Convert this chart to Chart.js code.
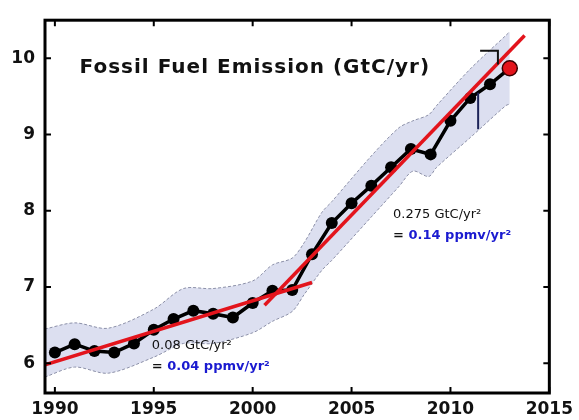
<!DOCTYPE html>
<html>
<head>
<meta charset="utf-8">
<script src="https://cdn.jsdelivr.net/npm/chart.js@4"></script>
<style>
  html, body { margin: 0; padding: 0; background: #fff; }
  canvas { display: block; }
</style>
</head>
<body>
<canvas id="chart" width="579" height="420"></canvas>
<script>
'use strict';

// annual fossil fuel emissions, GtC/yr
const years = [1990, 1991, 1992, 1993, 1994, 1995, 1996, 1997, 1998, 1999, 2000, 2001,
               2002, 2003, 2004, 2005, 2006, 2007, 2008, 2009, 2010, 2011, 2012];
const emissions = [6.14, 6.25, 6.16, 6.14, 6.26, 6.44, 6.58, 6.69, 6.65, 6.60, 6.79, 6.95,
                   6.96, 7.43, 7.84, 8.10, 8.33, 8.57, 8.81, 8.74, 9.18, 9.48, 9.66];

// projected value
const projYear = [2013];
const projValue = [9.87];

// linear fits (start / end)
const fitSlowYears = [1989.5, 2003];
const fitSlowValues = [5.98, 7.06];
const fitFastYears = [2000.6, 2013.75];
const fitFastValues = [6.76, 10.30];

// uncertainty envelope
const bandYears = [1989.5, 1991, 1992.7, 1995, 1996.5, 1998, 2000, 2001, 2002, 2002.6,
                   2003.5, 2004, 2006, 2007.4, 2008.1, 2008.9, 2009.3, 2011, 2012.8, 2013];
const bandUpper = [6.45, 6.53, 6.46, 6.71, 6.98, 6.98, 7.08, 7.29, 7.38, 7.58,
                   7.98, 8.12, 8.72, 9.09, 9.18, 9.26, 9.38, 9.86, 10.30, 10.35];
const bandLower = [5.82, 5.95, 5.87, 6.08, 6.26, 6.26, 6.40, 6.55, 6.68, 6.90,
                   7.22, 7.35, 7.92, 8.32, 8.52, 8.45, 8.57, 8.96, 9.38, 9.40];

// small marker lines near the end
const bracketYears = [2011.5, 2012.4, 2012.4];
const bracketValues = [10.10, 10.10, 9.92];
const rangeYears = [2011.4, 2011.4];
const rangeValues = [9.55, 9.07];

const xTicks = [1990, 1995, 2000, 2005, 2010, 2015];
const yTicks = [6, 7, 8, 9, 10];

const pts = (xs, ys) => xs.map((x, i) => ({ x: x, y: ys[i] }));

const RED = '#e3141c';
const BAND = 'rgba(216, 219, 238, 0.9)';
const BAND_EDGE = '#8c90a8';
const BLUE = '#1a1ad0';

const decor = {
    id: 'decor',
    afterDatasetsDraw(chart) {
        const { ctx, scales: { x, y } } = chart;
        ctx.save();
        ctx.textBaseline = 'middle';
        ctx.textAlign = 'left';

        // title
        ctx.fillStyle = '#111';
        ctx.font = 'bold 20px "DejaVu Sans"';
        ctx.letterSpacing = '1px';
        ctx.fillText('Fossil Fuel Emission (GtC/yr)', x.getPixelForValue(1991.25), y.getPixelForValue(9.88));
        ctx.letterSpacing = '0px';

        const eqn = (yr, v1, v2, rate, ppm) => {
            const px = x.getPixelForValue(yr);
            ctx.fillStyle = '#111';
            ctx.font = '13px "DejaVu Sans"';
            ctx.fillText(rate, px, y.getPixelForValue(v1));
            ctx.font = 'bold 13px "DejaVu Sans"';
            ctx.fillText('=', px, y.getPixelForValue(v2));
            const w = ctx.measureText('= ').width;
            ctx.fillStyle = BLUE;
            ctx.fillText(ppm, px + w, y.getPixelForValue(v2));
        };
        eqn(1994.9, 6.23, 5.96, '0.08 GtC/yr²', '0.04 ppmv/yr²');
        eqn(2007.1, 7.95, 7.68, '0.275 GtC/yr²', '0.14 ppmv/yr²');
        ctx.restore();
    },
    afterDraw(chart) {
        const { ctx, chartArea: a, scales: { x, y } } = chart;
        ctx.save();
        ctx.strokeStyle = '#000';
        ctx.lineWidth = 2;
        ctx.beginPath();
        xTicks.forEach(v => {
            const px = x.getPixelForValue(v);
            ctx.moveTo(px, a.bottom); ctx.lineTo(px, a.bottom - 6);
            ctx.moveTo(px, a.top); ctx.lineTo(px, a.top + 6);
        });
        yTicks.forEach(v => {
            const py = y.getPixelForValue(v);
            ctx.moveTo(a.left, py); ctx.lineTo(a.left + 6, py);
            ctx.moveTo(a.right, py); ctx.lineTo(a.right - 6, py);
        });
        ctx.stroke();
        ctx.lineWidth = 3;
        ctx.strokeRect(a.left, a.top, a.right - a.left, a.bottom - a.top);
        ctx.restore();
    }
};

const ctx = document.getElementById('chart').getContext('2d');
new Chart(ctx, {
    type: 'line',
    data: {
        datasets: [
            {   // upper edge, filled down to the lower edge
                data: pts(bandYears, bandUpper),
                borderColor: BAND_EDGE,
                borderWidth: 1,
                borderDash: [3, 2],
                backgroundColor: BAND,
                fill: '+1',
                pointRadius: 0,
                tension: 0.3,
                order: 6
            },
            {
                data: pts(bandYears, bandLower),
                borderColor: BAND_EDGE,
                borderWidth: 1,
                borderDash: [3, 2],
                fill: false,
                pointRadius: 0,
                tension: 0.3,
                order: 5
            },
            {
                data: pts(years.concat(projYear), emissions.concat(projValue)),
                borderColor: '#000',
                borderWidth: 3.5,
                pointRadius: 6,
                pointBackgroundColor: '#000',
                pointBorderWidth: 0,
                fill: false,
                order: 4
            },
            {
                data: pts(fitSlowYears, fitSlowValues),
                borderColor: RED,
                borderWidth: 3.5,
                pointRadius: 0,
                fill: false,
                order: 3
            },
            {
                data: pts(fitFastYears, fitFastValues),
                borderColor: RED,
                borderWidth: 3.5,
                pointRadius: 0,
                fill: false,
                order: 2
            },
            {
                data: pts(projYear, projValue),
                showLine: false,
                pointRadius: 7.5,
                pointBackgroundColor: RED,
                pointBorderColor: '#3a0000',
                pointBorderWidth: 1.5,
                order: 1
            },
            {
                data: pts(bracketYears, bracketValues),
                borderColor: '#111',
                borderWidth: 2,
                pointRadius: 0,
                fill: false,
                order: 0
            },
            {
                data: pts(rangeYears, rangeValues),
                borderColor: '#1c2358',
                borderWidth: 2,
                pointRadius: 0,
                fill: false,
                order: 0
            }
        ]
    },
    options: {
        responsive: false,
        animation: false,
        layout: { padding: { top: 14, right: 24, left: 0, bottom: 0 } },
        plugins: {
            legend: { display: false },
            tooltip: { enabled: false }
        },
        scales: {
            x: {
                type: 'linear',
                min: 1989.5,
                max: 2015,
                afterBuildTicks: axis => { axis.ticks = xTicks.map(v => ({ value: v })); },
                afterFit: axis => { axis.height = 27; },
                grid: { display: false, drawTicks: false },
                border: { display: false },
                ticks: {
                    color: '#111',
                    padding: 6,
                    maxRotation: 0,
                    font: { family: 'DejaVu Sans', weight: 'bold', size: 17 },
                    callback: v => String(v)
                }
            },
            y: {
                type: 'linear',
                min: 5.61,
                max: 10.5,
                afterBuildTicks: axis => { axis.ticks = yTicks.map(v => ({ value: v })); },
                afterFit: axis => { axis.width = 45; },
                grid: { display: false, drawTicks: false },
                border: { display: false },
                ticks: {
                    color: '#111',
                    padding: 10,
                    font: { family: 'DejaVu Sans', weight: 'bold', size: 17 },
                    callback: v => String(v)
                }
            }
        }
    },
    plugins: [decor]
});
</script>
</body>
</html>
